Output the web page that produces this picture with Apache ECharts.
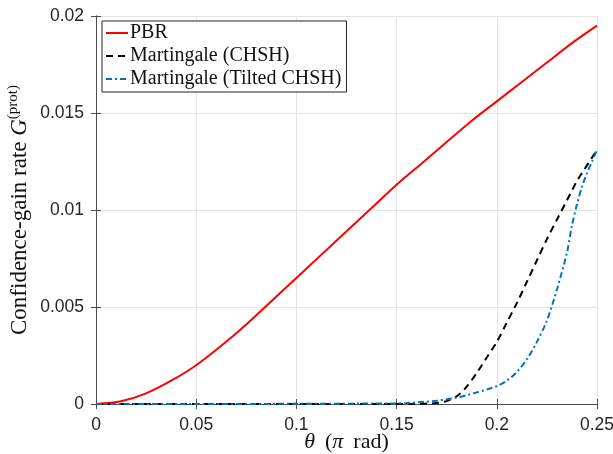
<!DOCTYPE html>
<html>
<head>
<meta charset="utf-8">
<script src="https://cdn.jsdelivr.net/npm/echarts@6/dist/echarts.min.js"></script>
<style>
html,body{margin:0;padding:0;background:#fff}
#main{width:613px;height:454px}
</style>
</head>
<body>
<div id="main"></div>
<script>
// PBR curve
var thetaPbr = [0, 0.0125, 0.025, 0.0375, 0.05, 0.0625, 0.075, 0.0875, 0.1, 0.1125, 0.125, 0.1375, 0.15, 0.1625, 0.175, 0.1875, 0.2, 0.2125, 0.225, 0.2375, 0.25]
var pbr = [0, 0.00014, 0.00055, 0.0012, 0.0020, 0.0030, 0.0041, 0.0053, 0.0065, 0.0077, 0.0089, 0.0101, 0.0113, 0.0124, 0.0135, 0.0146, 0.0156, 0.0166, 0.0176, 0.0186, 0.0195]

// martingale curves
var thetaMart = [0, 0.05, 0.1, 0.15, 0.155, 0.16, 0.165, 0.17, 0.175, 0.18, 0.185, 0.19, 0.195, 0.2, 0.205, 0.21, 0.215, 0.22, 0.225, 0.23, 0.235, 0.2375, 0.24, 0.2425, 0.245, 0.2475, 0.25]
var chsh = [0, 0, 0, 0, 0, 0, 0.00002, 0.00005, 0.00015, 0.0004, 0.0009, 0.0016, 0.0024, 0.0032, 0.0042, 0.0052, 0.0063, 0.0074, 0.0085, 0.0095, 0.0105, 0.0110, 0.0115, 0.0119, 0.0123, 0.0127, 0.0131]
var tilted = [0, 0, 0.00001, 0.00003, 0.00005, 0.00008, 0.00012, 0.00017, 0.00024, 0.00033, 0.00045, 0.0006, 0.00075, 0.00092, 0.0012, 0.00165, 0.0023, 0.0032, 0.0043, 0.0059, 0.0078, 0.0092, 0.0103, 0.0112, 0.0119, 0.0125, 0.0131]

var xTicks = [0, 0.05, 0.1, 0.15, 0.2, 0.25]
var yTicks = [0, 0.005, 0.01, 0.015, 0.02]

function pairs(xs, ys){
	var out = []
	for (var i = 0; i < xs.length; i++) out.push([xs[i], ys[i]])
	return out
}

var chart = echarts.init(document.getElementById('main'))
var axisCol = '#4d4d4d'
var tickFont = {fontFamily: 'Liberation Sans', fontSize: 17.5, color: '#262626'}
var serif = 'Liberation Serif'
var fmt = function(v){ return String(+v.toFixed(3)) }

var option = {
	animation: false,
	grid: {left: 96, right: 16, top: 16, bottom: 50, containLabel: false, outerBoundsMode: 'none'},
	legend: {
		orient: 'vertical',
		left: 102, top: 21,
		padding: [1, 5, 2, 3],
		itemWidth: 22, itemHeight: 12, itemGap: 1,
		borderColor: '#222', borderWidth: 1,
		backgroundColor: '#fff',
		itemStyle: {opacity: 0},
		textStyle: {fontFamily: serif, fontSize: 20, lineHeight: 22, color: '#111', padding: [0, 0, 0, -3]},
		data: ['PBR', 'Martingale (CHSH)', 'Martingale (Tilted CHSH)']
	},
	xAxis: [{
		type: 'value', min: xTicks[0], max: xTicks[xTicks.length - 1], interval: 0.05,
		axisLine: {show: true, lineStyle: {color: axisCol}},
		axisTick: {inside: true, length: 5, lineStyle: {color: axisCol}},
		axisLabel: Object.assign({margin: 12, formatter: fmt}, tickFont),
		splitLine: {show: true, lineStyle: {color: '#e3e3e3'}},
		name: '{i|θ}{g| }{n|(}{i|π}{g| }{n|rad)}', nameLocation: 'middle', nameGap: 27, nameMoveOverlap: false,
		nameTextStyle: {rich: {
			i: {fontFamily: serif, fontStyle: 'italic', fontSize: 22, color: '#111'},
			n: {fontFamily: serif, fontSize: 22, color: '#111'},
			g: {fontFamily: serif, fontSize: 22, width: 10}
		}}
	}, {
		type: 'value', position: 'top', min: 0, max: 0.25, interval: 0.05,
		axisLine: {show: true, lineStyle: {color: axisCol}},
		axisTick: {inside: true, length: 5, lineStyle: {color: axisCol}},
		axisLabel: {show: false}, splitLine: {show: false}
	}],
	yAxis: [{
		type: 'value', min: yTicks[0], max: yTicks[yTicks.length - 1], interval: 0.005,
		axisLine: {show: true, lineStyle: {color: axisCol}},
		axisTick: {show: true, inside: true, length: 5, lineStyle: {color: axisCol}},
		axisLabel: Object.assign({margin: 12, formatter: fmt}, tickFont),
		splitLine: {show: true, lineStyle: {color: '#e3e3e3'}},
		name: '{n|Confidence-gain rate }{i|G}{s|(prot)}', nameLocation: 'middle', nameGap: 62, nameRotate: 90, nameMoveOverlap: false,
		nameTextStyle: {rich: {
			n: {fontFamily: serif, fontSize: 23, color: '#111', lineHeight: 28},
			i: {fontFamily: serif, fontStyle: 'italic', fontSize: 23, color: '#111', lineHeight: 28},
			s: {fontFamily: serif, fontSize: 15, color: '#111', lineHeight: 28, padding: [0, 0, 14, 0]}
		}}
	}, {
		type: 'value', position: 'right', min: 0, max: 0.02, interval: 0.005,
		axisLine: {show: true, lineStyle: {color: axisCol}},
		axisTick: {show: true, inside: true, length: 5, lineStyle: {color: axisCol}},
		axisLabel: {show: false}, splitLine: {show: false}
	}],
	series: [{
		name: 'PBR', type: 'line', showSymbol: false, symbol: 'none', smooth: 0.3,
		data: pairs(thetaPbr, pbr),
		lineStyle: {color: '#ff0000', width: 2},
		itemStyle: {color: '#ff0000'}
	}, {
		name: 'Martingale (CHSH)', type: 'line', showSymbol: false, symbol: 'none', smooth: 0.3,
		data: pairs(thetaMart, chsh),
		lineStyle: {color: '#000000', width: 2, type: [7, 5]},
		itemStyle: {color: '#000000'}
	}, {
		name: 'Martingale (Tilted CHSH)', type: 'line', showSymbol: false, symbol: 'none', smooth: 0.3,
		data: pairs(thetaMart, tilted),
		lineStyle: {color: '#0072bd', width: 2, type: [6, 3, 2, 3]},
		itemStyle: {color: '#0072bd'}
	}]
}
chart.setOption(option)
</script>
</body>
</html>
